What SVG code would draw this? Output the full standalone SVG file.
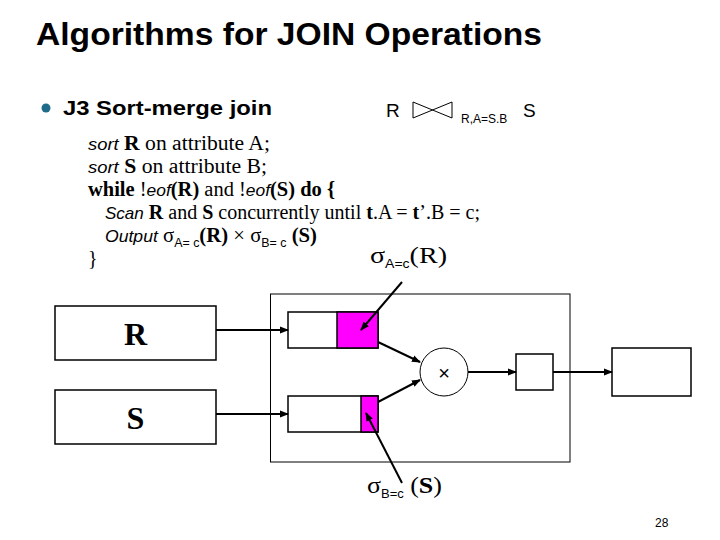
<svg xmlns="http://www.w3.org/2000/svg" width="720" height="540" viewBox="0 0 720 540">
<style>
.title{font-family:"Liberation Sans",Arial,sans-serif;font-weight:bold;font-size:32px;fill:#000}
.sans{font-family:"Liberation Sans",Arial,sans-serif;fill:#000}
.serif{font-family:"Liberation Serif","Times New Roman",serif;fill:#000}
.it{font-family:"Liberation Sans",Arial,sans-serif;font-style:italic;font-size:17px}
.b{font-weight:bold}
.sub{font-family:"Liberation Sans",Arial,sans-serif;font-size:12px}
.box{fill:#fff;stroke:#000;stroke-width:1.5}
.thin{fill:#fff;stroke:#000;stroke-width:1}
.mag{fill:#ff00ff;stroke:#000;stroke-width:1.5}
.conn{stroke:#000;stroke-width:2;fill:none;marker-end:url(#ah)}
</style>
<defs>
<marker id="ah" markerWidth="9" markerHeight="8" refX="8" refY="4" orient="auto" markerUnits="userSpaceOnUse">
<path d="M0,0.5 L9,4 L0,7.5 z" fill="#000"/>
</marker>
</defs>
<rect width="720" height="540" fill="#fff"/>

<text class="title" x="36" y="45" textLength="506" lengthAdjust="spacingAndGlyphs">Algorithms for JOIN Operations</text>

<circle cx="46" cy="108" r="4.5" fill="#1e6b8a"/>
<text class="sans b" x="63" y="115" font-size="21" textLength="209" lengthAdjust="spacingAndGlyphs">J3 Sort-merge join</text>

<g id="join-expr">
<text class="sans" x="386" y="117" font-size="19">R</text>
<path d="M413,102 L452,118 L452,102 L413,118 Z" fill="none" stroke="#000" stroke-width="1"/>
<text class="sans" x="461" y="123" font-size="12">R,A=S.B</text>
<text class="sans" x="523" y="117" font-size="19">S</text>
</g>

<g id="code" class="serif" font-size="20">
<text x="88" y="150" textLength="182" lengthAdjust="spacingAndGlyphs"><tspan class="it">sort</tspan>  <tspan class="b">R</tspan> on attribute A;</text>
<text x="88" y="173" textLength="179" lengthAdjust="spacingAndGlyphs"><tspan class="it">sort</tspan>  <tspan class="b">S</tspan> on attribute B;</text>
<text x="88" y="196" textLength="247" lengthAdjust="spacingAndGlyphs"><tspan class="b">while</tspan> !<tspan class="it">eof</tspan><tspan class="b">(R)</tspan> and !<tspan class="it">eof</tspan><tspan class="b">(S) do {</tspan></text>
<text x="105" y="219" textLength="375" lengthAdjust="spacingAndGlyphs"><tspan class="it">Scan</tspan>  <tspan class="b">R</tspan> and <tspan class="b">S</tspan> concurrently until <tspan class="b">t</tspan>.A = <tspan class="b">t</tspan>’.B = c;</text>
<text x="105" y="242" textLength="212" lengthAdjust="spacingAndGlyphs"><tspan class="it">Output</tspan> σ<tspan class="sub" dy="5">A= c</tspan><tspan class="b" dy="-5">(R)</tspan> × σ<tspan class="sub" dy="5">B= c</tspan><tspan dy="-5"> </tspan><tspan class="b">(S)</tspan></text>
<text x="88" y="265">}</text>
</g>

<g id="label-sigmaR">
<text class="serif" x="370" y="263" font-size="24" textLength="77" lengthAdjust="spacingAndGlyphs">σ<tspan class="sub" font-size="14" dy="5">A=c</tspan><tspan dy="-5">(R)</tspan></text>
</g>
<g id="label-sigmaS">
<text class="serif" x="367" y="493" font-size="24" textLength="75" lengthAdjust="spacingAndGlyphs">σ<tspan class="sub" font-size="14" dy="5">B=c</tspan><tspan dy="-5"> (</tspan><tspan class="b">S</tspan>)</text>
</g>

<g id="container"><rect class="thin" x="270.5" y="294" width="299.5" height="168"/></g>

<g id="R">
<rect class="box" x="55" y="306" width="161" height="54"/>
<text class="serif b" x="135.5" y="345" font-size="32" text-anchor="middle">R</text>
</g>
<g id="S">
<rect class="box" x="55" y="390" width="161" height="54"/>
<text class="serif b" x="135.5" y="429" font-size="32" text-anchor="middle">S</text>
</g>

<g id="queueR">
<rect class="box" x="288" y="312" width="90" height="36"/>
<rect class="mag" x="337" y="312" width="41" height="36"/>
</g>
<g id="queueS">
<rect class="box" x="288" y="396" width="90" height="36"/>
<rect class="mag" x="361" y="396" width="17" height="36"/>
</g>

<g id="product">
<circle cx="444" cy="372" r="24" fill="#fff" stroke="#000" stroke-width="1"/>
<text class="sans" x="444" y="380" font-size="20" text-anchor="middle">×</text>
</g>

<g id="buffer"><rect class="box" x="516" y="354" width="37" height="36"/></g>
<g id="output"><rect class="box" x="612" y="348" width="79" height="48"/></g>

<g id="connectors">
<line class="conn" x1="216" y1="330" x2="288" y2="330"/>
<line class="conn" x1="216" y1="414" x2="288" y2="414"/>
<line class="conn" x1="378" y1="342" x2="420" y2="362"/>
<line class="conn" x1="378" y1="402" x2="420" y2="380"/>
<line class="conn" x1="468" y1="372" x2="516" y2="372"/>
<line class="conn" x1="553" y1="372" x2="612" y2="372"/>
<line class="conn" x1="402" y1="282" x2="361" y2="330"/>
<line class="conn" x1="402" y1="483" x2="366" y2="413"/>
</g>

<text class="sans" x="655" y="527" font-size="12">28</text>
</svg>
